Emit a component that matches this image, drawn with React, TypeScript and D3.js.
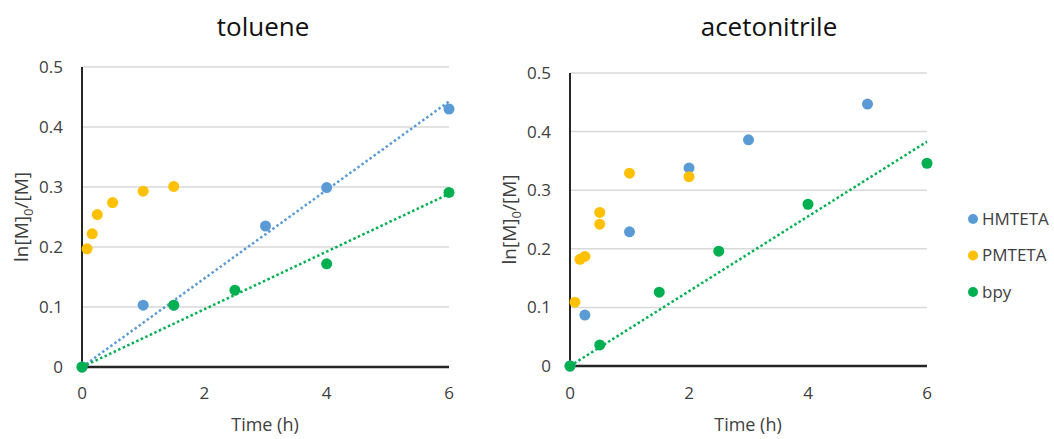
import * as d3 from 'd3';
import React from 'react';

// toluene
const tolHmTime = [0, 1, 1.5, 3, 4, 6];
const tolHmVal = [0, 0.103, 0.103, 0.235, 0.299, 0.43];
const tolPmTime = [0.083, 0.167, 0.25, 0.5, 1, 1.5];
const tolPmVal = [0.197, 0.222, 0.254, 0.274, 0.293, 0.301];
const tolBpyTime = [0, 1.5, 2.5, 4, 6];
const tolBpyVal = [0, 0.103, 0.128, 0.172, 0.291];

// acetonitrile
const acnHmTime = [0, 0.25, 1, 2, 3, 5];
const acnHmVal = [0, 0.087, 0.229, 0.338, 0.386, 0.447];
const acnPmTime = [0.083, 0.167, 0.25, 0.5, 0.5, 1, 2];
const acnPmVal = [0.109, 0.182, 0.187, 0.262, 0.242, 0.329, 0.323];
const acnBpyTime = [0, 0.5, 1.5, 2.5, 4, 6];
const acnBpyVal = [0, 0.036, 0.126, 0.196, 0.276, 0.346];

const seriesNames = ['HMTETA', 'PMTETA', 'bpy'];
const colors = ['#5B9BD5', '#FFC000', '#00B050'];
const xTicks = [0, 2, 4, 6];
const yTicks = [0, 0.1, 0.2, 0.3, 0.4, 0.5];

const font = '"Open Sans", sans-serif';
const gray = '#404040';

type Series = { t: number[]; v: number[]; trend: boolean };

// least squares slope with intercept forced to 0 (Excel "set intercept = 0")
const originSlope = (t: number[], v: number[]) =>
  d3.sum(t, (x, i) => x * v[i]) / d3.sum(t, (x) => x * x);

const Panel = (props: {
  title: string; series: Series[];
  left: number; right: number; top: number; bottom: number;
  titleX: number; timeX: number; yTitleX: number;
}) => {
  const x = d3.scaleLinear().domain([0, 6]).range([props.left, props.right]);
  const y = d3.scaleLinear().domain([0, 0.5]).range([props.bottom, props.top]);
  const line = d3.line<number>().x((d) => x(d[0])).y((d) => y(d[1]));
  const midY = (props.top + props.bottom) / 2;

  return (
    <g>
      <text x={props.titleX} y={36} textAnchor="middle" fontFamily={font} fontSize={26} fill="#111">
        {props.title}
      </text>
      {yTicks.slice(1).map((t) => (
        <line key={t} x1={props.left} x2={props.right} y1={y(t)} y2={y(t)} stroke="#d9d9d9" strokeWidth={1.5} />
      ))}
      {yTicks.map((t) => (
        <text key={t} x={props.left - 19} y={y(t)} dy="0.35em" textAnchor="end" fontFamily={font} fontSize={17} fill={gray}>
          {d3.format('')(+t.toFixed(1))}
        </text>
      ))}
      {xTicks.map((t) => (
        <text key={t} x={x(t)} y={399} textAnchor="middle" fontFamily={font} fontSize={17} fill={gray}>
          {t}
        </text>
      ))}
      <line x1={props.left} x2={props.left} y1={props.top} y2={props.bottom} stroke="#262626" strokeWidth={2} />
      <line x1={props.left} x2={props.right} y1={props.bottom} y2={props.bottom} stroke="#262626" strokeWidth={2.5} />
      <text x={props.timeX} y={431} textAnchor="middle" fontFamily={font} fontSize={18} fill={gray}>
        Time (h)
      </text>
      <text transform={`translate(${props.yTitleX},${midY}) rotate(-90)`} textAnchor="middle" fontFamily={font} fontSize={19} fill={gray}>
        ln[M]<tspan fontSize={13} dy={5}>0</tspan><tspan dy={-5}>/[M]</tspan>
      </text>
      {props.series.map((s, i) => {
        if (!s.trend) return null;
        const k = originSlope(s.t, s.v);
        return (
          <path key={'t' + i} d={line([[0, 0], [6, 6 * k]] as any) || ''} fill="none"
            stroke={colors[i]} strokeWidth={2.5} strokeDasharray="2.5 2.5" />
        );
      })}
      {props.series.map((s, i) =>
        s.t.map((t, j) => (
          <circle key={i + '-' + j} cx={x(t)} cy={y(s.v[j])} r={5.5} fill={colors[i]} />
        ))
      )}
    </g>
  );
};

const App = () => {
  const tol: Series[] = [
    { t: tolHmTime, v: tolHmVal, trend: true },
    { t: tolPmTime, v: tolPmVal, trend: false },
    { t: tolBpyTime, v: tolBpyVal, trend: true },
  ];
  const acn: Series[] = [
    { t: acnHmTime, v: acnHmVal, trend: false },
    { t: acnPmTime, v: acnPmVal, trend: false },
    { t: acnBpyTime, v: acnBpyVal, trend: true },
  ];
  const legendY = d3.scalePoint<string>().domain(seriesNames).range([219, 292]);

  return (
    <div style={{ position: 'absolute', left: 0, top: 0 }}>
      <svg width={1054} height={439} style={{ display: 'block', background: '#fff' }}>
        <Panel title="toluene" series={tol} left={82} right={449} top={67} bottom={367}
          titleX={263} timeX={265} yTitleX={28} />
        <Panel title="acetonitrile" series={acn} left={570} right={927} top={73} bottom={366}
          titleX={769} timeX={748} yTitleX={516} />
        {seriesNames.map((n, i) => (
          <g key={n}>
            <circle cx={973} cy={legendY(n)!} r={5} fill={colors[i]} />
            <text x={982} y={legendY(n)!} dy="0.35em" fontFamily={font} fontSize={17} fill={gray}>{n}</text>
          </g>
        ))}
      </svg>
    </div>
  );
};

export default App;
